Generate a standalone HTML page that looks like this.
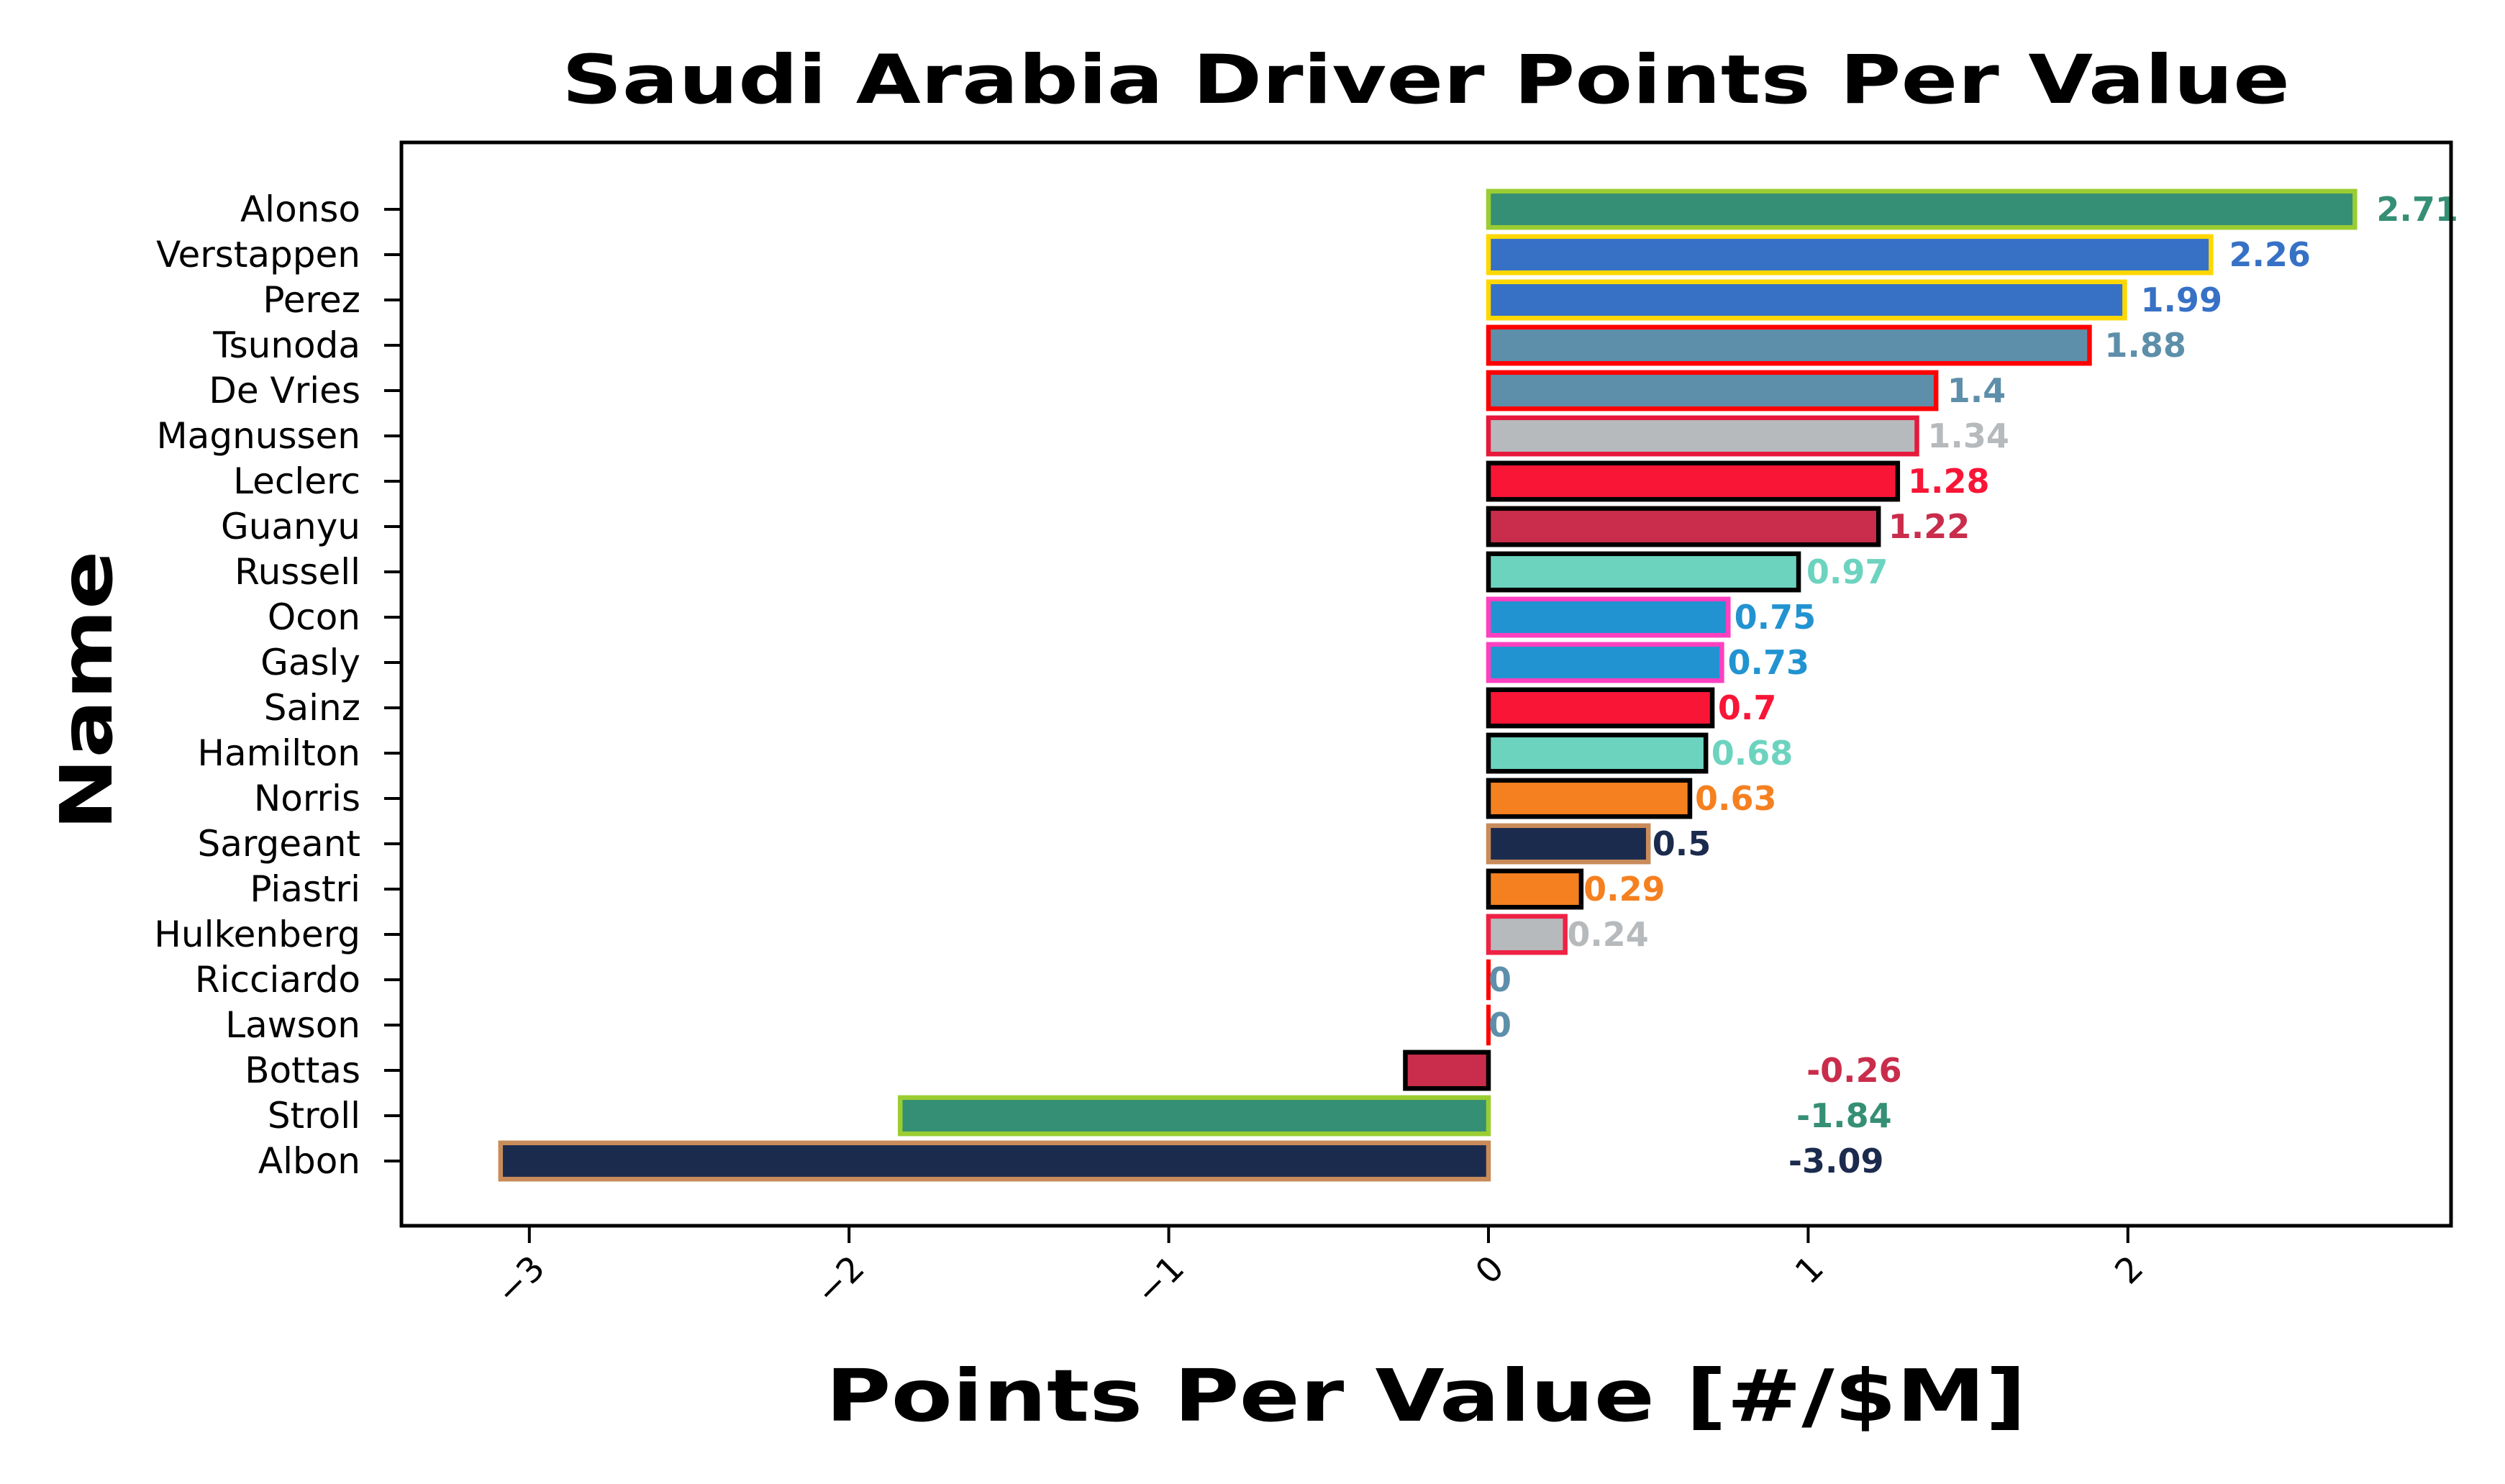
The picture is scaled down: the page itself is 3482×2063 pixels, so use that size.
<!DOCTYPE html>
<html><head><meta charset="utf-8"><style>html,body{margin:0;padding:0;background:#fff}svg{display:block}</style></head>
<body>
<svg id="chart" width="3482" height="2063" viewBox="0 0 3482 2063" xmlns="http://www.w3.org/2000/svg" font-family="'DejaVu Sans','Liberation Sans',sans-serif">
<rect width="3482" height="2063" fill="#fff"/>
<text x="1982" y="143" text-anchor="middle" font-weight="bold" font-size="94" textLength="2402" lengthAdjust="spacingAndGlyphs">Saudi Arabia Driver Points Per Value</text>
<text x="1982" y="1975" text-anchor="middle" font-weight="bold" font-size="100" textLength="1669" lengthAdjust="spacingAndGlyphs">Points Per Value [#/$M]</text>
<text transform="translate(155,960) rotate(-90)" text-anchor="middle" font-weight="bold" font-size="100" textLength="389" lengthAdjust="spacingAndGlyphs">Name</text>
<g id="bars"></g>
<g id="labels"></g>
<g id="yticks"></g>
<g id="xticks"></g>
<rect x="558" y="198" width="2849" height="1506" fill="none" stroke="#000" stroke-width="5"/>
</svg>
<script>
const names = ["Alonso","Verstappen","Perez","Tsunoda","De Vries","Magnussen","Leclerc","Guanyu","Russell","Ocon","Gasly","Sainz","Hamilton","Norris","Sargeant","Piastri","Hulkenberg","Ricciardo","Lawson","Bottas","Stroll","Albon"];
const values = [2.71,2.26,1.99,1.88,1.4,1.34,1.28,1.22,0.97,0.75,0.73,0.7,0.68,0.63,0.5,0.29,0.24,0,0,-0.26,-1.84,-3.09];
const fills = ["#358f74","#3671c6","#3671c6","#5e8faa","#5e8faa","#b6babd","#f91536","#c92d4b","#6cd3bf","#2293d1","#2293d1","#f91536","#6cd3bf","#f58020","#1b2b4e","#f58020","#b6babd","#5e8faa","#5e8faa","#c92d4b","#358f74","#1b2b4e"];
const edges = ["#9acd32","#ffd700","#ffd700","#ff0000","#ff0000","#e6193c","#000000","#000000","#000000","#ff40c0","#ff40c0","#000000","#000000","#000000","#c88b5a","#000000","#ee2244","#ff0000","#ff0000","#000000","#9acd32","#c88b5a"];
const xTicks = [-3,-2,-1,0,1,2];
const xTickLabels = ["\u22123","\u22122","\u22121","0","1","2"];

const NS = "http://www.w3.org/2000/svg";
function xs(v){ return 2069 + v*444.4; }
function ys(i){ return 291 + i*63.0; }
const barH = 50.4;
function mk(tag, attrs, parent){ const e=document.createElementNS(NS,tag); for(const k in attrs) e.setAttribute(k,attrs[k]); parent.appendChild(e); return e; }
const gb=document.getElementById('bars'), gl=document.getElementById('labels'), gy=document.getElementById('yticks'), gx=document.getElementById('xticks');
names.forEach((n,i)=>{
  const v=values[i], x0=Math.min(xs(0),xs(v)), w=Math.abs(xs(v)-xs(0));
  let r;
  if (w < 0.5) {
    r=mk('line',{x1:xs(0),x2:xs(0),y1:ys(i)-barH/2-3,y2:ys(i)+barH/2+3,stroke:edges[i],'stroke-width':6},gb);
  } else {
    r=mk('rect',{x:x0,y:ys(i)-barH/2,width:w,height:barH,fill:fills[i],stroke:edges[i],'stroke-width':6.5},gb);
  }
  
  
  const lx = v>=0 ? xs(v*1.025) : xs(1+v*0.02);
  const t=mk('text',{x:lx,y:ys(i)+16,'font-size':46,'font-weight':'bold',fill:fills[i]},gl);
  t.textContent=String(v);
  
  
  const tk=mk('line',{x1:534,x2:558,y1:ys(i),y2:ys(i),stroke:'#000','stroke-width':4},gy);
  
  
  const yl=mk('text',{x:501,y:ys(i)+17,'font-size':50,'text-anchor':'end'},gy);
  yl.textContent=n;
  
  
});
xTicks.forEach((v,i)=>{
  const tk=mk('line',{x1:xs(v),x2:xs(v),y1:1704,y2:1728,stroke:'#000','stroke-width':4},gx);
  
  
  const t=mk('text',{x:0,y:0,'font-size':48,'text-anchor':'end',transform:'translate('+(xs(v)+24)+',1766) rotate(-45)'},gx);
  t.textContent=xTickLabels[i];
  
  
});
</script>
</body></html>
